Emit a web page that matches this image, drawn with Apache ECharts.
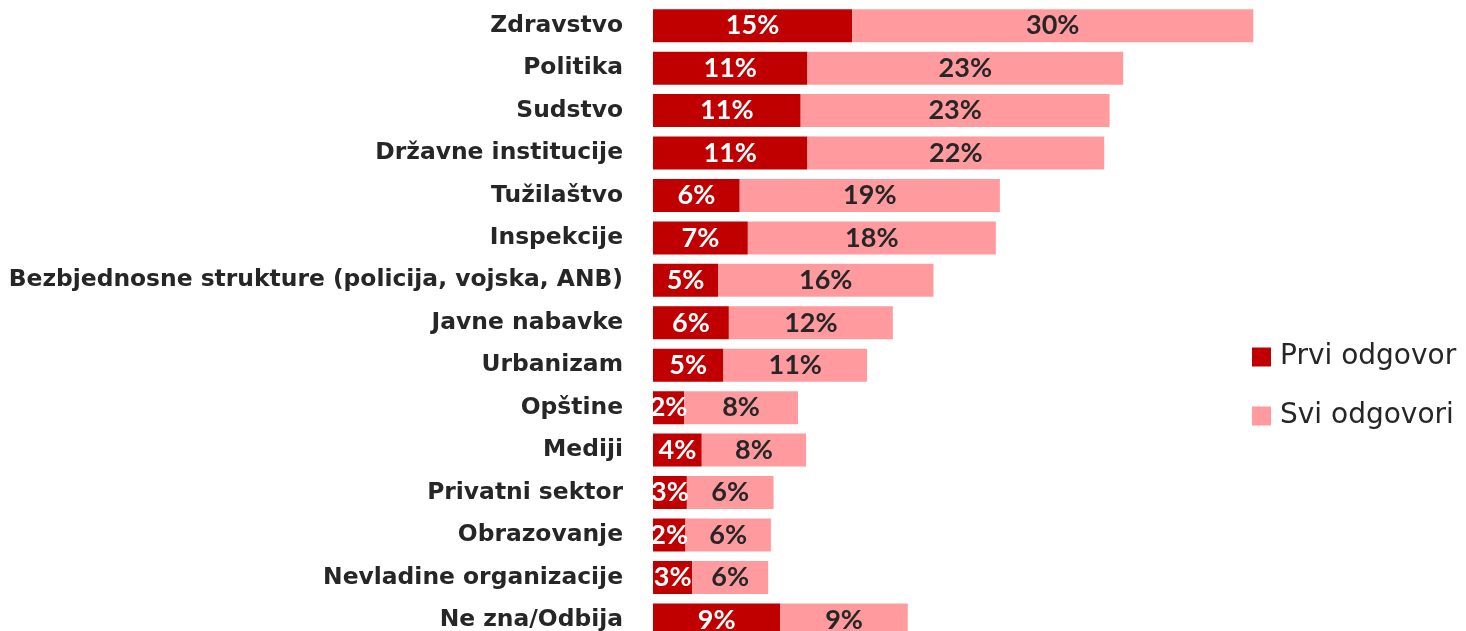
<!DOCTYPE html>
<html>
<head>
<meta charset="utf-8">
<script src="https://cdn.jsdelivr.net/npm/echarts@6/dist/echarts.min.js"></script>
<style>html,body{margin:0;padding:0;background:#fff;overflow:hidden;}#c{width:1466px;height:660px;}</style>
</head>
<body>
<div id="c"></div>
<script>
const categories = ["Zdravstvo","Politika","Sudstvo","Državne institucije","Tužilaštvo","Inspekcije","Bezbjednosne strukture (policija, vojska, ANB)","Javne nabavke","Urbanizam","Opštine","Mediji","Privatni sektor","Obrazovanje","Nevladine organizacije","Ne zna/Odbija"];
const prviOdgovor = [14.7,11.4,10.9,11.4,6.4,7.0,4.8,5.6,5.2,2.3,3.6,2.5,2.4,2.9,9.4];
const sviOdgovori = [29.6,23.3,22.8,21.9,19.2,18.3,15.9,12.1,10.6,8.4,7.7,6.4,6.3,5.6,9.4];
const seriesNames = ["Prvi odgovor","Svi odgovori"];

const font = 'Lato';
const chart = echarts.init(document.getElementById('c'), null, {renderer:'canvas'});
const pct = p => Math.round(p.value) + '%';
chart.setOption({
  animation:false,
  grid:{left:653, width:813, top:4.5, height:636.6, containLabel:false},
  xAxis:{type:'value', min:0, max:60, show:false},
  yAxis:{type:'category', data:categories, inverse:true,
    axisLine:{show:false}, axisTick:{show:false}, splitLine:{show:false},
    axisLabel:{margin:30, color:'#262626', fontFamily:'DejaVu Sans', fontWeight:'bold', fontSize:23.4}},
  legend:{orient:'vertical', left:1252, top:343, padding:0, itemWidth:19, itemHeight:19, itemGap:31,
    icon:'rect', textStyle:{fontFamily:'DejaVu Sans', fontSize:28, color:'#262626', padding:[0,0,0,4]},
    data:seriesNames},
  series:[
    {name:seriesNames[0], type:'bar', stack:'s', data:prviOdgovor, barWidth:33,
     itemStyle:{color:'#C00000'},
     label:{show:true, position:'inside', formatter:pct, color:'#fff', fontFamily:font, fontWeight:'bold', fontSize:27}},
    {name:seriesNames[1], type:'bar', stack:'s', data:sviOdgovori, barWidth:33,
     itemStyle:{color:'#FF9B9E'},
     label:{show:true, position:'inside', formatter:pct, color:'#262626', fontFamily:font, fontWeight:'bold', fontSize:27}}
  ]
});
</script>
</body>
</html>
